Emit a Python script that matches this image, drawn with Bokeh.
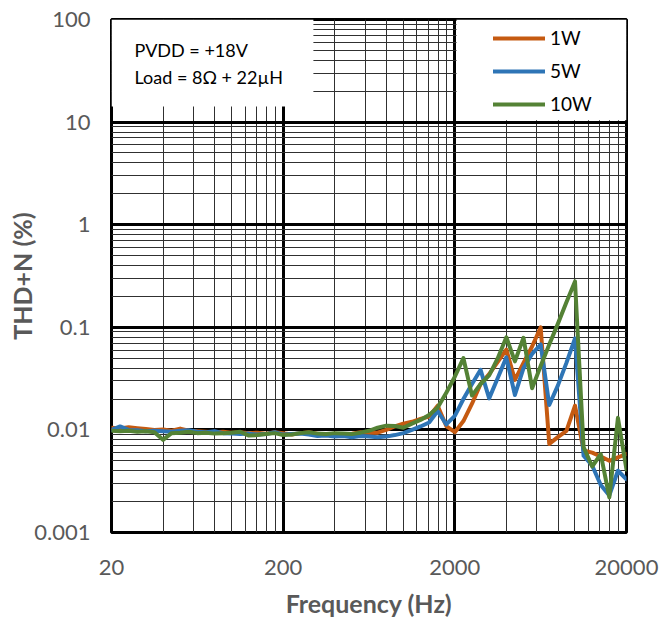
from bokeh.plotting import figure
from bokeh.models import Range1d, FixedTicker, BoxAnnotation, Label, Legend, LegendItem
from bokeh.embed import file_html
from bokeh.resources import INLINE

# ---------------- data ----------------
freq = [20, 22.44, 25.18, 28.25, 31.70, 35.57, 39.91, 44.77, 50.24, 56.37,
        63.25, 70.96, 79.62, 89.34, 100.2, 112.5, 126.2, 141.6, 158.9, 178.3,
        200, 224.4, 251.8, 282.5, 317.0, 355.7, 399.1, 447.7, 502.4, 563.7,
        632.5, 709.6, 796.2, 893.4, 1002, 1125, 1262, 1416, 1589, 1783,
        2000, 2244, 2518, 2825, 3170, 3557, 3991, 4477, 5024, 5637,
        6325, 7096, 7962, 8934, 10024, 11247, 12619, 14159, 15887, 17825,
        20000]

thd_1w = [0.0105, 0.0103, 0.0106, 0.0104, 0.0102, 0.0100, 0.0101, 0.0098, 0.0103, 0.0098,
          0.0097, 0.0096, 0.0095, 0.0096, 0.0094, 0.0095, 0.0093, 0.0094, 0.0092, 0.0095,
          0.0093, 0.0090, 0.0093, 0.0095, 0.0092, 0.0090, 0.0092, 0.0090, 0.0092, 0.0095,
          0.0094, 0.0094, 0.0100, 0.0108, 0.0115, 0.0120, 0.0128, 0.0135, 0.0172, 0.0109,
          0.0095, 0.0122, 0.0180, 0.0280, 0.0350, 0.0460, 0.0607, 0.0307, 0.0450, 0.0650,
          0.1000, 0.0073, 0.0085, 0.0098, 0.0172, 0.0063, 0.0060, 0.0055, 0.0050, 0.0054,
          0.0058]

thd_5w = [0.0100, 0.0108, 0.0100, 0.0099, 0.0097, 0.0098, 0.0097, 0.0096, 0.0098, 0.0099,
          0.0096, 0.0095, 0.0097, 0.0093, 0.0092, 0.0091, 0.0092, 0.0090, 0.0091, 0.0095,
          0.0090, 0.0091, 0.0092, 0.0090, 0.0087, 0.0088, 0.0086, 0.0087, 0.0085, 0.0087,
          0.0086, 0.0085, 0.0086, 0.0089, 0.0093, 0.0100, 0.0108, 0.0118, 0.0153, 0.0113,
          0.0137, 0.0200, 0.0280, 0.0385, 0.0203, 0.0320, 0.0509, 0.0219, 0.0400, 0.0550,
          0.0680, 0.0175, 0.0270, 0.0450, 0.0778, 0.0056, 0.0045, 0.0029, 0.0023, 0.0040,
          0.0033]

thd_10w = [0.0098, 0.0097, 0.0098, 0.0096, 0.0097, 0.0095, 0.0080, 0.0093, 0.0094, 0.0096,
           0.0093, 0.0094, 0.0092, 0.0093, 0.0094, 0.0096, 0.0088, 0.0089, 0.0091, 0.0093,
           0.0089, 0.0090, 0.0093, 0.0095, 0.0092, 0.0091, 0.0093, 0.0092, 0.0091, 0.0094,
           0.0098, 0.0105, 0.0110, 0.0109, 0.0105, 0.0115, 0.0125, 0.0140, 0.0165, 0.0230,
           0.0330, 0.0500, 0.0216, 0.0280, 0.0340, 0.0500, 0.0800, 0.0465, 0.0790, 0.0255,
           0.0420, 0.0680, 0.1080, 0.1750, 0.2800, 0.0068, 0.0044, 0.0058, 0.0022, 0.0131,
           0.0041]

series_names = ["1W", "5W", "10W"]
x_ticks = [20, 200, 2000, 20000]
x_tick_labels = ["20", "200", "2000", "20000"]
y_ticks = [0.001, 0.01, 0.1, 1, 10, 100]
y_tick_labels = ["0.001", "0.01", "0.1", "1", "10", "100"]
note_lines = ["PVDD = +18V", "Load = 8\u03a9 + 22\u00b5H"]

# ---------------- styling ----------------
colors = ["#C55A11", "#2E75B6", "#548235"]
FONT = "Lato"
GRAY = "#595959"

x_minor = [t * k for t in x_ticks[:-1] for k in range(2, 10)]
y_minor = [t * k for t in y_ticks[:-1] for k in range(2, 10)]

p = figure(x_axis_type="log", y_axis_type="log",
           x_range=Range1d(20, 20000), y_range=Range1d(0.001, 100),
           frame_width=515, frame_height=513,
           min_border_left=111, min_border_right=46,
           min_border_top=19, min_border_bottom=87,
           output_backend="svg", toolbar_location=None)

p.xaxis.ticker = FixedTicker(ticks=x_ticks, minor_ticks=x_minor)
p.yaxis.ticker = FixedTicker(ticks=y_ticks, minor_ticks=y_minor)
p.xgrid.ticker = FixedTicker(ticks=x_ticks, minor_ticks=x_minor)
p.ygrid.ticker = FixedTicker(ticks=y_ticks, minor_ticks=y_minor)
p.xaxis.major_label_overrides = dict(zip(x_ticks, x_tick_labels))
p.yaxis.major_label_overrides = dict(zip(y_ticks, y_tick_labels))

for g in (p.xgrid, p.ygrid):
    g.grid_line_color = "black"
    g.grid_line_width = 3
    g.minor_grid_line_color = "#303030"
    g.minor_grid_line_width = 1

p.outline_line_color = "black"
p.outline_line_width = 3
p.background_fill_color = "white"
p.border_fill_color = "white"

for ax in (p.xaxis, p.yaxis):
    ax.axis_line_color = None
    ax.major_tick_line_color = None
    ax.minor_tick_line_color = None
    ax.major_tick_out = 0
    ax.major_tick_in = 0
    ax.minor_tick_out = 0
    ax.minor_tick_in = 0
    ax.major_label_text_font = FONT
    ax.major_label_text_font_size = "22px"
    ax.major_label_text_color = GRAY
    ax.axis_label_text_font = FONT
    ax.axis_label_text_font_size = "25px"
    ax.axis_label_text_font_style = "bold"
    ax.axis_label_text_color = GRAY

p.xaxis.axis_label = "Frequency (Hz)"
p.yaxis.axis_label = "THD+N (%)"
p.xaxis.major_label_standoff = 27
p.yaxis.major_label_standoff = 21
p.xaxis.axis_label_standoff = 10
p.yaxis.axis_label_standoff = -6

renderers = []
for ys, c in zip([thd_1w, thd_5w, thd_10w], colors):
    r = p.line(freq, ys, line_color=c, line_width=4, line_join="round", line_cap="round")
    renderers.append(r)

# white boxes behind the note and the legend
p.add_layout(BoxAnnotation(left=20, right=300, bottom=14.2, top=100,
                           fill_color="white", fill_alpha=1, line_color=None))
p.add_layout(BoxAnnotation(left=2045, right=20000, bottom=10.4, top=100,
                           fill_color="white", fill_alpha=1, line_color=None))

for txt, yy in zip(note_lines, [483, 456]):
    p.add_layout(Label(x=23, y=yy, x_units="screen", y_units="screen", text=txt,
                       text_font=FONT, text_font_size="18px", text_color="black",
                       text_baseline="middle", text_align="left"))

legend = Legend(items=[LegendItem(label=n, renderers=[r]) for n, r in zip(series_names, renderers)],
                location=(382, 417), padding=0, margin=0, spacing=10,
                glyph_width=52, glyph_height=20, label_standoff=5,
                label_text_font=FONT, label_text_font_size="19px", label_text_color="black",
                border_line_color=None, background_fill_alpha=0)
p.add_layout(legend)

open("out.html", "w").write(file_html(p, INLINE))
